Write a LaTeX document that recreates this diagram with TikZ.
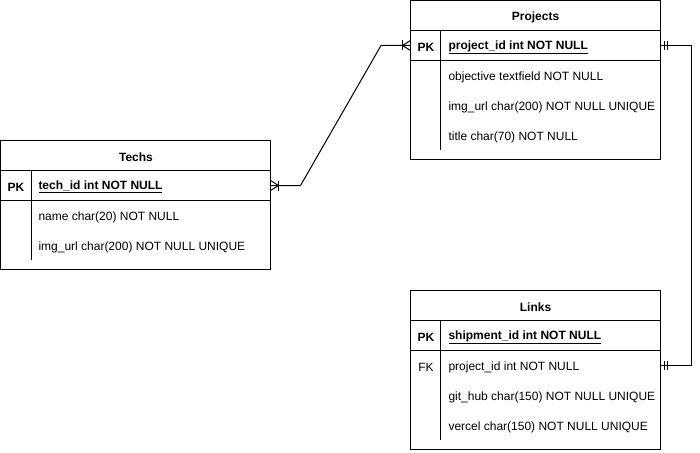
\documentclass[tikz,border=0pt]{standalone}
\usepackage{fontspec}
\setmainfont{Liberation Sans}
\begin{document}
\begin{tikzpicture}[x=1pt,y=-1pt,line width=1pt,
  tbl/.style={draw, anchor=north west, inner sep=0pt, outer sep=0pt},
  ttl/.style={font=\fontsize{12}{14}\selectfont\bfseries, inner sep=0pt, yshift=-1.5pt},
  rowtxt/.style={anchor=west, inner sep=0pt, font=\fontsize{12}{14}\selectfont, yshift=-1.5pt},
  keytxt/.style={inner sep=0pt, font=\fontsize{12}{14}\selectfont, yshift=-1.5pt},
  pktxt/.style={rowtxt, font=\fontsize{12}{14}\selectfont\bfseries},
  rel/.style={draw, line width=1pt}]
\useasboundingbox (0,0) rectangle (700,452);
% ---------- Techs ----------
\node[tbl, minimum width=270pt, minimum height=129pt] (techs) at (0.5,140.5) {};
\node[ttl] (techsT) at (136,155.5) {Techs};
\draw (0.5,170.5) -- (271,170.5);
\draw (0.5,200.5) -- (271,200.5);
\draw (31.5,170.5) -- (31.5,260);
\node[keytxt, font=\fontsize{12}{14}\selectfont\bfseries] (techsPK) at (16,185.5) {PK};
\node[pktxt] (techsR1) at (38,185.5) {\underline{tech\_id int NOT NULL}};
\node[rowtxt] (techsR2) at (38,215.5) {name char(20) NOT NULL};
\node[rowtxt] (techsR3) at (38,245.5) {img\_url char(200) NOT NULL UNIQUE};
\coordinate (techsE) at (techs.east |- 0,185.5);
% ---------- Projects ----------
\node[tbl, minimum width=250pt, minimum height=159pt] (proj) at (410.5,0.5) {};
\node[ttl] (projT) at (535.5,15.5) {Projects};
\draw (410.5,30.5) -- (660.5,30.5);
\draw (410.5,60.5) -- (660.5,60.5);
\draw (440.5,30.5) -- (440.5,150);
\node[keytxt, font=\fontsize{12}{14}\selectfont\bfseries] (projPK) at (426,45.5) {PK};
\node[pktxt] (projR1) at (448,45.5) {\underline{project\_id int NOT NULL}};
\node[rowtxt] (projR2) at (448,75.5) {objective textfield NOT NULL};
\node[rowtxt] (projR3) at (448,105.5) {img\_url char(200) NOT NULL UNIQUE};
\node[rowtxt] (projR4) at (448,135.5) {title char(70) NOT NULL};
\coordinate (projW) at (proj.west |- 0,45.5);
\coordinate (projE) at (proj.east |- 0,45.5);
% ---------- Links ----------
\node[tbl, minimum width=250pt, minimum height=159pt] (links) at (410.5,290.5) {};
\node[ttl] (linksT) at (535.5,305.5) {Links};
\draw (410.5,320.5) -- (660.5,320.5);
\draw (410.5,350.5) -- (660.5,350.5);
\draw (440.5,320.5) -- (440.5,440);
\node[keytxt, font=\fontsize{12}{14}\selectfont\bfseries] (linksPK) at (426,335.5) {PK};
\node[pktxt] (linksR1) at (448,335.5) {\underline{shipment\_id int NOT NULL}};
\node[keytxt] (linksFK) at (426,365.5) {FK};
\node[rowtxt] (linksR2) at (448,365.5) {project\_id int NOT NULL};
\node[rowtxt] (linksR3) at (448,395.5) {git\_hub char(150) NOT NULL UNIQUE};
\node[rowtxt] (linksR4) at (448,425.5) {vercel char(150) NOT NULL UNIQUE};
\coordinate (linksE) at (links.east |- 0,365.5);
% ---------- connectors ----------
\draw[rel] (techsE) -- ++(30,0) -- (381,45.5) -- (projW);
\draw[rel] (projE) -- (691,45.5) -- (691,365.5) -- (linksE);
% crow's foot + bar at Projects
\draw ([xshift=-8pt]projW) -- ([yshift=-5pt]projW) ([xshift=-8pt]projW) -- ([yshift=5pt]projW);
\draw ([xshift=-8pt,yshift=-5pt]projW) -- ([xshift=-8pt,yshift=5pt]projW);
% crow's foot + bar at Techs
\draw ([xshift=8pt]techsE) -- ([yshift=-5pt]techsE) ([xshift=8pt]techsE) -- ([yshift=5pt]techsE);
\draw ([xshift=8pt,yshift=-5pt]techsE) -- ([xshift=8pt,yshift=5pt]techsE);
% mandatory one bars
\draw ([xshift=4pt,yshift=-4.5pt]projE) -- ([xshift=4pt,yshift=4.5pt]projE);
\draw ([xshift=7pt,yshift=-4.5pt]projE) -- ([xshift=7pt,yshift=4.5pt]projE);
\draw ([xshift=4pt,yshift=-4.5pt]linksE) -- ([xshift=4pt,yshift=4.5pt]linksE);
\draw ([xshift=7pt,yshift=-4.5pt]linksE) -- ([xshift=7pt,yshift=4.5pt]linksE);
\end{tikzpicture}
\end{document}
